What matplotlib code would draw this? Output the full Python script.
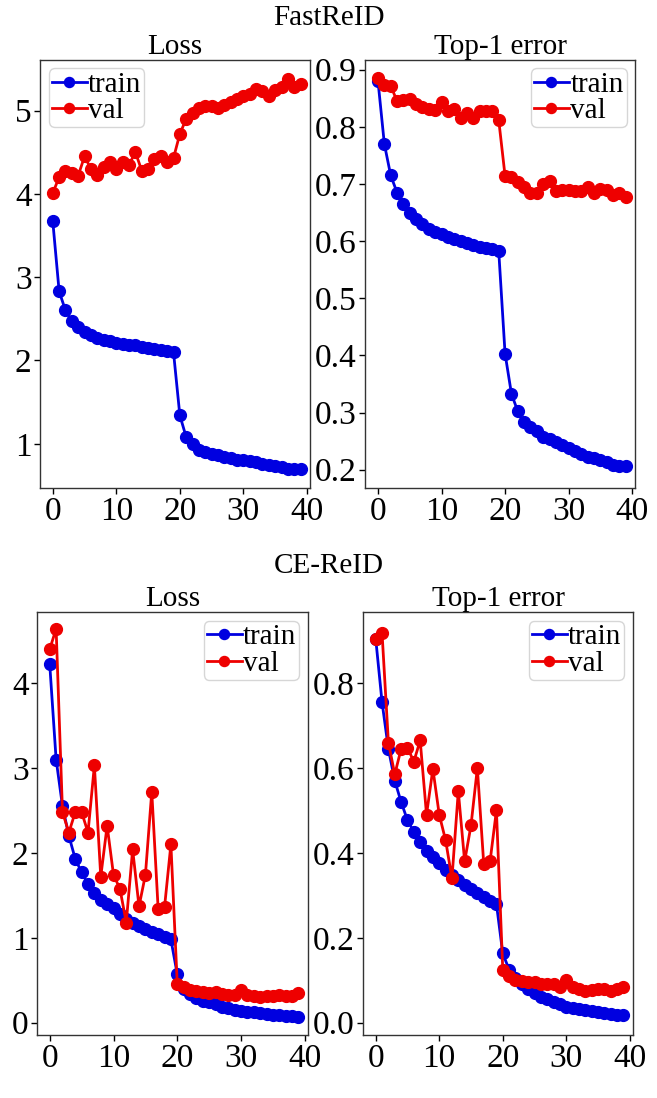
import matplotlib
matplotlib.use("Agg")
import matplotlib.pyplot as plt
import numpy as np

epochs = np.arange(40)

# FastReID
fast_loss_train = [3.67, 2.83, 2.60, 2.47, 2.40, 2.34, 2.30, 2.27, 2.25, 2.23,
                   2.21, 2.20, 2.19, 2.18, 2.16, 2.15, 2.14, 2.12, 2.11, 2.10,
                   1.34, 1.08, 1.00, 0.92, 0.90, 0.88, 0.86, 0.84, 0.83, 0.81,
                   0.80, 0.79, 0.78, 0.76, 0.75, 0.73, 0.72, 0.70, 0.70, 0.70]
fast_loss_val = [4.01, 4.20, 4.28, 4.25, 4.22, 4.45, 4.30, 4.23, 4.32, 4.38,
                 4.30, 4.38, 4.35, 4.50, 4.28, 4.30, 4.42, 4.46, 4.38, 4.43,
                 4.72, 4.90, 4.97, 5.03, 5.05, 5.05, 5.03, 5.07, 5.10, 5.14,
                 5.18, 5.20, 5.26, 5.23, 5.18, 5.25, 5.28, 5.38, 5.28, 5.32]
fast_top1_train = [0.880, 0.770, 0.715, 0.685, 0.665, 0.650, 0.638, 0.630, 0.622, 0.616,
                   0.612, 0.608, 0.604, 0.600, 0.597, 0.594, 0.590, 0.588, 0.587, 0.583,
                   0.403, 0.333, 0.302, 0.283, 0.275, 0.267, 0.258, 0.253, 0.248, 0.243,
                   0.238, 0.233, 0.228, 0.223, 0.220, 0.217, 0.213, 0.208, 0.207, 0.206]
fast_top1_val = [0.885, 0.873, 0.872, 0.845, 0.847, 0.848, 0.840, 0.835, 0.832, 0.830,
                 0.843, 0.828, 0.832, 0.815, 0.825, 0.815, 0.828, 0.828, 0.828, 0.812,
                 0.714, 0.712, 0.703, 0.695, 0.685, 0.685, 0.700, 0.705, 0.688, 0.690,
                 0.690, 0.688, 0.688, 0.695, 0.685, 0.692, 0.690, 0.680, 0.685, 0.678]

# CE-ReID
ce_loss_train = [4.22, 3.10, 2.55, 2.20, 1.93, 1.77, 1.63, 1.53, 1.45, 1.40,
                 1.35, 1.28, 1.22, 1.17, 1.14, 1.10, 1.07, 1.04, 1.01, 0.98,
                 0.57, 0.40, 0.34, 0.29, 0.26, 0.24, 0.22, 0.19, 0.17, 0.15,
                 0.14, 0.13, 0.12, 0.11, 0.10, 0.09, 0.09, 0.08, 0.08, 0.07]
ce_loss_val = [4.40, 4.64, 2.48, 2.24, 2.48, 2.48, 2.24, 3.03, 1.72, 2.32,
               1.74, 1.58, 1.18, 2.04, 1.37, 1.74, 2.72, 1.34, 1.36, 2.10,
               0.45, 0.42, 0.39, 0.37, 0.36, 0.35, 0.36, 0.34, 0.33, 0.33,
               0.38, 0.33, 0.31, 0.30, 0.31, 0.32, 0.33, 0.31, 0.32, 0.35]
ce_top1_train = [0.905, 0.755, 0.645, 0.570, 0.520, 0.477, 0.450, 0.425, 0.405, 0.390,
                 0.377, 0.360, 0.347, 0.335, 0.325, 0.315, 0.305, 0.295, 0.287, 0.280,
                 0.163, 0.125, 0.105, 0.090, 0.080, 0.070, 0.060, 0.055, 0.048, 0.043,
                 0.038, 0.035, 0.032, 0.029, 0.027, 0.025, 0.023, 0.020, 0.018, 0.017]
ce_top1_val = [0.905, 0.918, 0.660, 0.585, 0.645, 0.648, 0.615, 0.665, 0.490, 0.598,
               0.490, 0.430, 0.340, 0.545, 0.380, 0.465, 0.600, 0.375, 0.380, 0.500,
               0.125, 0.110, 0.100, 0.097, 0.095, 0.095, 0.090, 0.090, 0.092, 0.085,
               0.100, 0.085, 0.080, 0.075, 0.078, 0.080, 0.080, 0.075, 0.080, 0.085]

plt.rcParams.update({
    "font.family": ["Liberation Serif", "DejaVu Serif"],
    "axes.edgecolor": "#333333",
    "axes.linewidth": 1.0,
})

fig = plt.figure(figsize=(6.57, 10.98), dpi=100)

panels = [
    # rect, title, train, val, ylim, yticks, yticklabels, legend loc
    ([0.061, 0.5556, 0.411, 0.390], "Loss", fast_loss_train, fast_loss_val,
     (0.47, 5.61), [1, 2, 3, 4, 5], ["1", "2", "3", "4", "5"], "upper left"),
    ([0.556, 0.5556, 0.411, 0.390], "Top-1 error", fast_top1_train, fast_top1_val,
     (0.168, 0.9175), [0.2, 0.3, 0.4, 0.5, 0.6, 0.7, 0.8, 0.9],
     ["0.2", "0.3", "0.4", "0.5", "0.6", "0.7", "0.8", "0.9"], "upper right"),
    ([0.0563, 0.0574, 0.4125, 0.385], "Loss", ce_loss_train, ce_loss_val,
     (-0.145, 4.835), [0, 1, 2, 3, 4], ["0", "1", "2", "3", "4"], "upper right"),
    ([0.5525, 0.0574, 0.411, 0.385], "Top-1 error", ce_top1_train, ce_top1_val,
     (-0.029, 0.967), [0.0, 0.2, 0.4, 0.6, 0.8],
     ["0.0", "0.2", "0.4", "0.6", "0.8"], "upper right"),
]

for rect, title, tr, va, ylim, yt, ytl, loc in panels:
    ax = fig.add_axes(rect)
    ax.plot(epochs, tr, color="#0000e0", marker="o", markersize=8.5, linewidth=2.0,
            label="train")
    ax.plot(epochs, va, color="#ee0000", marker="o", markersize=8.5, linewidth=2.0,
            label="val")
    ax.set_xlim(-2, 40.5)
    ax.set_ylim(*ylim)
    ax.set_xticks([0, 10, 20, 30, 40])
    ax.set_yticks(yt)
    ax.set_yticklabels(ytl)
    ax.tick_params(labelsize=24, length=4, width=1, pad=2)
    ax.set_title(title, fontsize=21, pad=3)
    leg = ax.legend(loc=loc, fontsize=21, handlelength=1.2, handletextpad=0.05,
                    borderpad=0.1, labelspacing=0.0, borderaxespad=0.3,
                    fancybox=True, framealpha=0.8, markerscale=0.85)
    leg.get_frame().set_edgecolor("#cccccc")

fig.text(0.5, 0.995, "FastReID", ha="center", va="top", fontsize=21)
fig.text(0.5, 0.496, "CE-ReID", ha="center", va="top", fontsize=21)

fig.savefig("out.png", dpi=100)
